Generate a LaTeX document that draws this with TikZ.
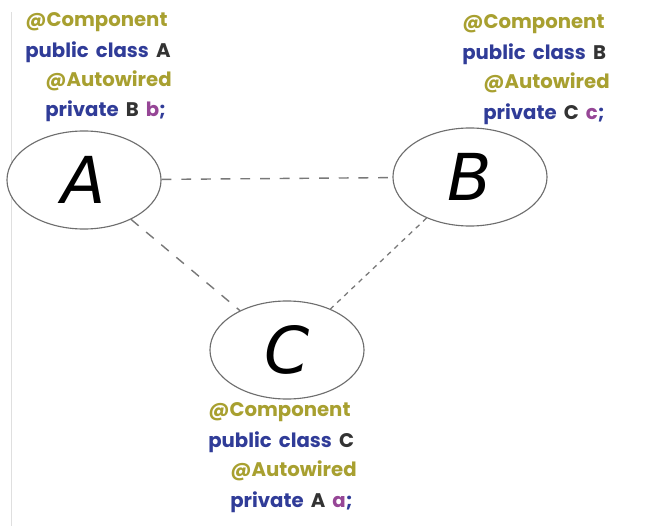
\documentclass[tikz,border=0pt]{standalone}
\usepackage{fontspec}
\usepackage{xcolor}
\usepackage{tikz}
\usetikzlibrary{shapes.geometric, positioning}
\newfontfamily\codefont{Poppins}[WordSpace=1.7]
\newfontfamily\handfont{DejaVu Sans}
\definecolor{AnnoOlive}{RGB}{168, 160, 48}
\definecolor{KeyBlue}{RGB}{48, 60, 152}
\definecolor{VarPurple}{RGB}{150, 70, 150}
\definecolor{EdgeGray}{RGB}{120, 120, 120}
\definecolor{RingGray}{RGB}{110, 110, 110}
\tikzset{
  bean/.style={ellipse, draw=RingGray, line width=0.8pt, fill=white,
    minimum width=3.85cm, minimum height=2.45cm, inner sep=0pt,
    font=\handfont\itshape\fontsize{46}{46}\selectfont, text=black},
  anno/.style={anchor=west, inner sep=0pt,
    font=\codefont\bfseries\fontsize{14}{14}\selectfont, text=AnnoOlive},
  code/.style={anchor=west, inner sep=0pt,
    font=\codefont\bfseries\fontsize{14}{14}\selectfont, text=KeyBlue},
  link/.style={EdgeGray, line width=1pt, dash pattern=on 7pt off 7pt},
  link2/.style={EdgeGray, line width=0.9pt, dash pattern=on 3.5pt off 3.5pt},
}
\newcommand{\cls}[1]{\textcolor{black!80}{#1}}
\newcommand{\fld}[1]{\textcolor{VarPurple}{#1}}
\begin{document}
\begin{tikzpicture}[x=0.025cm, y=-0.025cm]
  \useasboundingbox[fill=white] (0,0) rectangle (647,526);
  \draw[gray!25, line width=0.6pt] (11,12) -- (11,526);

  \node[bean] (A) at (84,180) {A};
  \node[bean] (B) at (470,177) {B};
  \node[bean] (C) at (287,350) {C};

  \draw[link] (A) -- (B);
  \draw[link] (A) -- (C);
  \draw[link2] (B) -- (C);

  \node[anno] (aAnno) at (25,22) {@Component};
  \node[code] (aClass) at (25,52) {public class \cls{A}};
  \node[anno] (aWire) at (45,81) {@Autowired};
  \node[code] (aField) at (45,111) {private \cls{B} \fld{b};};

  \node[anno] (bAnno) at (462,24) {@Component};
  \node[code] (bClass) at (462,54) {public class \cls{B}};
  \node[anno] (bWire) at (483,83) {@Autowired};
  \node[code] (bField) at (483,114) {private \cls{C} \fld{c};};

  \node[anno] (cAnno) at (208,412) {@Component};
  \node[code] (cClass) at (208,442) {public class \cls{C}};
  \node[anno] (cWire) at (230,471) {@Autowired};
  \node[code] (cField) at (230,502) {private \cls{A} \fld{a};};
\end{tikzpicture}
\end{document}
